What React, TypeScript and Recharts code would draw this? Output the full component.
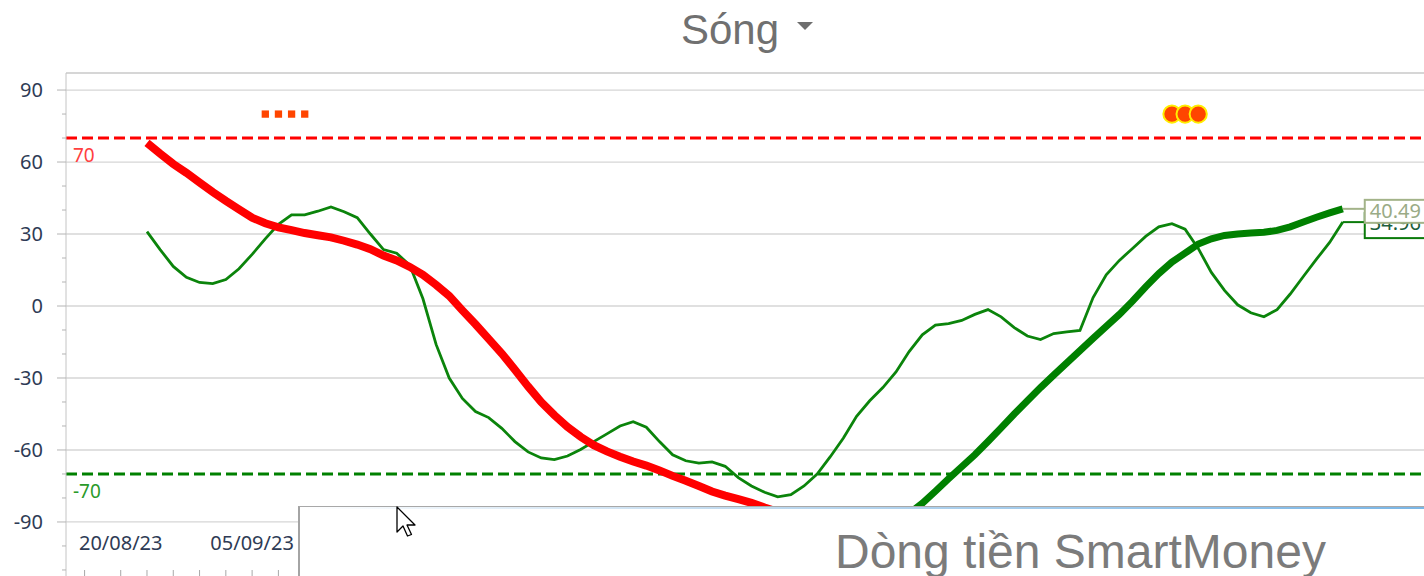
import React from 'react';
import { ComposedChart, Line, Scatter, XAxis, YAxis, ReferenceLine } from 'recharts';

// x = trading-day index, 0 = first computed point
const dateLabels: { idx: number; text: string }[] = [
  { idx: -2, text: '20/08/23' },
  { idx: 8, text: '05/09/23' },
];

// thin green wave
const waveFast = [
  31, 23.5, 16.5, 12, 9.8, 9.3, 11, 15.5, 21.5, 28,
  34, 38, 38, 39.5, 41.3, 39.3, 36.8, 30, 23.5, 22,
  17, 3, -16, -30, -38.5, -44, -46.5, -51, -56.5, -60.8,
  -63.3, -64, -62.5, -59.8, -56.5, -53.3, -50, -48.2, -50.5, -56.5,
  -62, -64.5, -65.5, -65, -66.8, -71.5, -75, -77.6, -79.5, -78.6,
  -75, -70, -62.8, -55, -46, -39.5, -34, -27.5, -19, -12,
  -8, -7.3, -6, -3.5, -1.5, -4.5, -9, -12.5, -14, -11.5,
  -10.8, -10.2, 3.5, 13, 19, 24, 29, 33, 34.3, 32,
  24, 14, 6.5, 0.5, -2.8, -4.5, -1.5, 5, 12.3, 19.5,
  26.5, 34.96,
];

// thick trend line, falling part (red)
const trendDown = [
  68, 63.5, 59.2, 55.5, 51.5, 47.5, 43.8, 40.3, 36.8, 34.5,
  32.8, 31.6, 30.4, 29.5, 28.6, 27.2, 25.6, 23.7, 21, 19,
  16.3, 13, 8.8, 4.2, -1.8, -7.6, -13.7, -19.8, -26.6, -33.5,
  -40, -45.5, -50.4, -54.5, -58, -60.6, -62.8, -64.8, -66.5, -68.5,
  -70.8, -72.8, -75, -77.3, -79, -80.5, -82, -84, -85.8, -87.4,
  -88.8, -90, -90.8, -91.3, -91.6, -91.7,
];

// thick trend line, rising part (green), starts at TURN_IDX
const TURN_IDX = 55;
const trendUp = [
  -91.7, -91, -89.5, -86.5, -82.2, -77.2, -72, -67, -62, -56.5,
  -50.8, -45, -39.5, -34, -28.8, -23.7, -18.6, -13.5, -8.5, -3.5,
  2, 8, 13.5, 18.3, 22, 25.8, 28, 29.4, 30, 30.4,
  30.7, 31.5, 33, 35, 37, 38.8, 40.49,
];

const sellSignals = [9, 10, 11, 12];
const buySignals = [78, 79, 80];
const SIGNAL_LEVEL = 80;

const OVERBOUGHT = 70;
const OVERSOLD = -70;

const yMajor = [-90, -60, -30, 0, 30, 60, 90];
const yTicks = [-110, -100, -90, -80, -70, -60, -50, -40, -30, -20, -10, 0, 10, 20, 30, 40, 50, 60, 70, 80, 90];
const xTicks: number[] = [-4.75];
for (let t = -2; t <= 96; t += 2) xTicks.push(t);

const Y_MIN = -114.6;
const Y_MAX = 97.1;
const X_MIN = -6.164;
const X_MAX = 98.4;
const AXIS_X = 66;
const LAST = waveFast.length - 1;

const rows = waveFast.map((v, i) => ({
  i,
  fast: v,
  down: i <= TURN_IDX ? trendDown[i] : null,
  up: i >= TURN_IDX ? trendUp[i - TURN_IDX] : null,
}));

const font = '"Noto Sans", "Open Sans", sans-serif';

const YTick = (p: any) => {
  const v = p.payload.value;
  const major = yMajor.includes(v);
  return (
    <g>
      <line x1={AXIS_X - (major ? 9 : 4)} x2={AXIS_X} y1={p.y} y2={p.y} stroke="#b4b4b4" />
      {major && (
        <text x={43} y={p.y} dy="0.35em" textAnchor="end" fontSize={20} fill="#2e3b55" fontFamily={font}>
          {v}
        </text>
      )}
    </g>
  );
};

const XTick = (p: any) => {
  const lab = dateLabels.find((d) => d.idx === p.payload.value);
  return (
    <g>
      <line x1={p.x} x2={p.x} y1={570} y2={584} stroke="#a8a8a8" />
      {lab && (
        <text x={p.x} y={550} textAnchor="middle" fontSize={20} fill="#2e3b55" fontFamily={font}>
          {lab.text}
        </text>
      )}
    </g>
  );
};

const RefText = ({ viewBox, text, color }: any) => (
  <text x={viewBox.x + 7} y={viewBox.y + 24} fontSize={19} fill={color} fontFamily={font}>
    {text}
  </text>
);

// value tag at the end of a line: connector, boxed value
const endTag = (text: string, border: string, color: string, top: number, h: number, base: number) => (p: any) => {
  const x0 = p.cx + 22;
  return (
    <g>
      <line x1={p.cx} y1={p.cy} x2={x0} y2={p.cy} stroke={border} strokeWidth={2} />
      <rect x={x0} y={p.cy + top} width={80} height={h} fill="#fff" stroke={border} strokeWidth={2} />
      <text x={x0 + 5} y={p.cy + base} fontSize={20} fill={color} fontFamily={font}>
        {text}
      </text>
    </g>
  );
};

export default function App() {
  return (
    <div style={{ position: 'fixed', left: 0, top: 0, width: 1424, height: 576, overflow: 'hidden', background: '#fff' }}>
      <div
        style={{
          position: 'absolute', left: 681, top: 9, fontSize: 42, lineHeight: '42px',
          fontFamily: '"Liberation Sans", Arial, sans-serif', color: '#707070',
        }}
      >
        Sóng
      </div>
      <svg style={{ position: 'absolute', left: 797, top: 22 }} width={17} height={10}>
        <polygon points="0,0 16,0 8,8" fill="#6e6e6e" />
      </svg>

      <div style={{ position: 'absolute', left: 0, top: 0 }}>
        <ComposedChart width={1460} height={582} data={rows} margin={{ top: 73, right: 20, bottom: 0, left: 0 }}>
          <XAxis
            dataKey="i"
            type="number"
            domain={[X_MIN, X_MAX]}
            allowDataOverflow
            ticks={xTicks}
            interval={0}
            height={1}
            axisLine={false}
            tickLine={false}
            tick={(p: any) => <XTick {...p} />}
          />
          <YAxis
            type="number"
            domain={[Y_MIN, Y_MAX]}
            allowDataOverflow
            ticks={yTicks}
            interval={0}
            width={AXIS_X}
            axisLine={{ stroke: '#c4c4c4' }}
            tickLine={false}
            tickSize={0}
            tick={(p: any) => <YTick {...p} />}
          />
          {yMajor.map((v) => (
            <ReferenceLine key={v} y={v} stroke="#d6d6d6" strokeWidth={1.3} />
          ))}
          <ReferenceLine y={Y_MAX} stroke="#c8c8c8" strokeWidth={1.3} />
          <ReferenceLine
            y={OVERBOUGHT}
            stroke="#ff0000"
            strokeWidth={3}
            strokeDasharray="11 5"
            label={<RefText text="70" color="#ff4040" />}
          />
          <ReferenceLine
            y={OVERSOLD}
            stroke="#008000"
            strokeWidth={3}
            strokeDasharray="11 5"
            label={<RefText text="-70" color="#2a9a2a" />}
          />
          <Line dataKey="fast" stroke="#0b840b" strokeWidth={2.8} dot={false} isAnimationActive={false} />
          <Line dataKey="down" stroke="#ff0000" strokeWidth={8} dot={false} isAnimationActive={false} connectNulls={false} />
          <Line dataKey="up" stroke="#008000" strokeWidth={7} dot={false} isAnimationActive={false} connectNulls={false} />
          <Scatter
            data={sellSignals.map((i) => ({ i, v: SIGNAL_LEVEL }))}
            dataKey="v"
            isAnimationActive={false}
            shape={(p: any) => <rect x={p.cx - 3.6} y={p.cy - 3.6} width={7.3} height={7.3} fill="#ff4500" />}
          />
          <Scatter
            data={buySignals.map((i) => ({ i, v: SIGNAL_LEVEL }))}
            dataKey="v"
            isAnimationActive={false}
            shape={(p: any) => <circle cx={p.cx} cy={p.cy} r={8.6} fill="#ff4500" stroke="#ffee00" strokeWidth={2} />}
          />
          <Scatter
            data={[{ i: LAST, v: waveFast[LAST] }]}
            dataKey="v"
            isAnimationActive={false}
            shape={endTag(waveFast[LAST].toFixed(2), '#0a7a0a', '#1d5e3c', -9, 25, 8)}
          />
          <Scatter
            data={[{ i: LAST, v: trendUp[trendUp.length - 1] }]}
            dataKey="v"
            isAnimationActive={false}
            shape={endTag(trendUp[trendUp.length - 1].toFixed(2), '#a3b389', '#9aab86', -9, 23, 9)}
          />
        </ComposedChart>
      </div>

      {/* lower panel overlapping the chart */}
      <div
        style={{
          position: 'absolute', left: 298, top: 506, width: 1200, height: 100, background: '#fff',
          borderTop: '1px solid #a8a8a8', borderLeft: '2px solid #a4a4a4',
        }}
      >
        <div
          style={{
            position: 'absolute', left: 0, top: 0, width: '100%', height: 2,
            background: 'linear-gradient(to right, rgba(150,180,210,0) 0%, rgba(120,175,220,0.45) 35%, rgba(90,165,225,0.85) 100%)',
          }}
        />
        <div
          style={{
            position: 'absolute', left: 535, top: 21, fontSize: 48, lineHeight: '48px', whiteSpace: 'nowrap',
            fontFamily: '"Liberation Sans", Arial, sans-serif', color: '#7b7b7b',
          }}
        >
          Dòng tiền SmartMoney
        </div>
      </div>

      <svg style={{ position: 'absolute', left: 396, top: 506 }} width={22} height={34}>
        <path
          d="M1 1 L1 26 L7 20 L11.5 30 L15.5 28.5 L11 19 L19 19 Z"
          fill="#fff"
          stroke="#000"
          strokeWidth={1.3}
          strokeLinejoin="round"
        />
      </svg>
    </div>
  );
}
